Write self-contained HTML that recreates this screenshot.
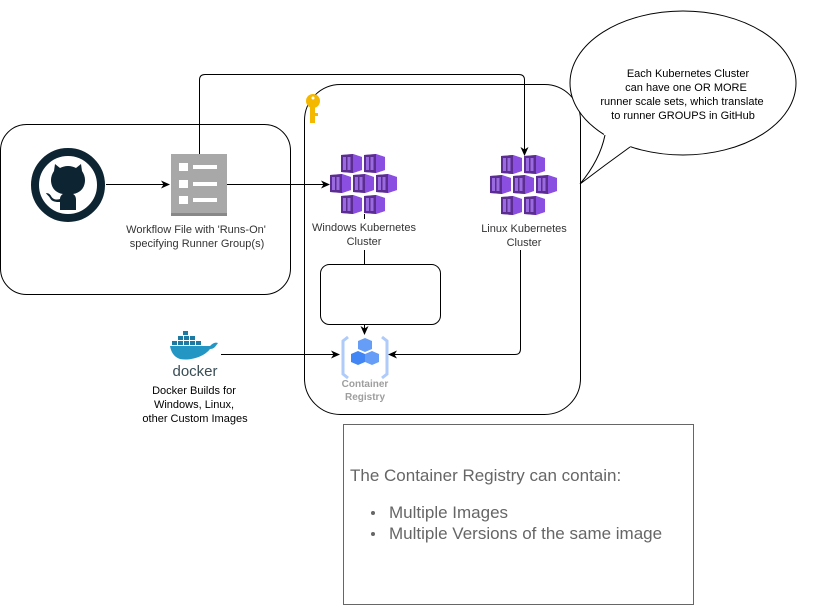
<!DOCTYPE html>
<html><head><meta charset="utf-8"><style>
html,body{margin:0;padding:0;background:#fff;}
svg{display:block;}
text{font-family:"Liberation Sans",Arial,sans-serif;}
</style></head><body>
<svg width="817" height="605" viewBox="0 0 817 605" xmlns="http://www.w3.org/2000/svg">
<defs>
<marker id="ar" markerWidth="10" markerHeight="10" refX="8" refY="5" orient="auto" markerUnits="userSpaceOnUse">
<path d="M0,1 L9,5 L0,9 L2.5,5 Z" fill="#000"/>
</marker>
<g id="ct">
<path d="M0,1 L12,0 L21,3 L21,16 L12,19 L0,18 Z" fill="#a06ee8"/>
<path d="M0,1 L12,0 L12,19 L0,18 Z" fill="#5c2d91"/>
<rect x="2" y="3" width="3" height="13" fill="#9a6ae0"/>
<rect x="6.5" y="3" width="3" height="13" fill="#9a6ae0"/>
<path d="M12,0 L21,3 L21,16 L12,19 Z" fill="#8a4ee0"/>
</g>
<g id="cl">
<use href="#ct" x="11" y="0"/><use href="#ct" x="34" y="0"/>
<use href="#ct" x="0" y="20"/><use href="#ct" x="23" y="20"/><use href="#ct" x="46" y="20"/>
<use href="#ct" x="11" y="41"/><use href="#ct" x="34" y="41"/>
</g>
</defs>

<!-- containers -->
<rect x="0.5" y="124.5" width="290" height="170" rx="26" fill="none" stroke="#000"/>
<rect x="304.5" y="84.5" width="276" height="330" rx="36" fill="none" stroke="#000"/>
<rect x="320.5" y="264.5" width="120" height="60" rx="9" fill="none" stroke="#000"/>
<rect x="343.5" y="424.5" width="350" height="180" fill="#fff" stroke="#666"/>

<!-- callout -->
<ellipse cx="683" cy="83" rx="113" ry="72" fill="#fff" stroke="#000"/>
<path d="M604,134 Q600,160 580,184 Q605,165 631,146 L640,130 L612,125 Z" fill="#fff"/>
<path d="M605,135 Q600,160 580,184 Q605,165 630,147" fill="none" stroke="#000"/>
<g font-size="11" text-anchor="middle" fill="#000">
<text x="688" y="77">Each Kubernetes Cluster</text>
<text x="686" y="91">can have one OR MORE</text>
<text x="682" y="105">runner scale sets, which translate</text>
<text x="683" y="119">to runner GROUPS in GitHub</text>
</g>

<!-- github -->
<circle cx="68" cy="185" r="33" fill="none" stroke="#0d2433" stroke-width="8"/>
<path d="M68,166 c-3,0 -6,1 -8,2 l-5,-4 l-1,7 c-2,3 -3,6 -3,9 c0,8 5,13 12,14 c-2,1 -3,3 -3,5 c-3,1 -7,1 -9,-3 c-1,-2 -3,-3 -5,-3 c1,2 3,3 4,5 c2,4 6,4 10,4 l0,8 l16,0 l0,-10 c0,-3 -1,-5 -3,-6 c7,-1 12,-6 12,-14 c0,-3 -1,-6 -3,-9 l-1,-7 l-5,4 c-2,-1 -5,-2 -8,-2 z" fill="#0d2433"/>

<!-- workflow icon -->
<rect x="171" y="154" width="56" height="62" fill="#a8a8a8"/>
<rect x="171" y="213" width="56" height="3" fill="#888"/>
<rect x="179" y="163" width="9" height="8" fill="#fff"/><rect x="193" y="165" width="24" height="4" fill="#fff"/>
<rect x="179" y="180" width="9" height="8" fill="#fff"/><rect x="193" y="182" width="24" height="4" fill="#fff"/>
<rect x="179" y="196" width="9" height="8" fill="#fff"/><rect x="193" y="198" width="24" height="4" fill="#fff"/>
<g font-size="11" fill="#333" text-anchor="middle">
<text x="196" y="233">Workflow File with 'Runs-On'</text>
<text x="197" y="247">specifying Runner Group(s)</text>
</g>

<!-- key -->
<g fill="#f5b800">
<circle cx="313" cy="101" r="7"/>
<rect x="310" y="104" width="5" height="19"/>
<rect x="315" y="113" width="3" height="3"/>
</g>
<circle cx="313" cy="98" r="1.5" fill="#fff"/>

<!-- clusters -->
<use href="#cl" x="330" y="154"/>
<use href="#cl" x="490" y="155"/>
<g font-size="11" fill="#333" text-anchor="middle">
<text x="364" y="231">Windows Kubernetes</text>
<text x="364" y="245">Cluster</text>
<text x="524" y="232">Linux Kubernetes</text>
<text x="524" y="246">Cluster</text>
</g>

<!-- registry icon -->
<g>
<path d="M348,337 l-5,4 v33 l5,4" fill="none" stroke="#aecbfa" stroke-width="3"/>
<path d="M382,337 l5,4 v33 l-5,4" fill="none" stroke="#aecbfa" stroke-width="3"/>
<path d="M358,341 l7,-3 l7,3 v8 l-7,3 l-7,-3z" fill="#669df6"/>
<path d="M351,354 l7,-3 l7,3 v8 l-7,3 l-7,-3z" fill="#4285f4"/>
<path d="M365,354 l7,-3 l7,3 v8 l-7,3 l-7,-3z" fill="#669df6"/>
</g>
<g font-size="10" font-weight="bold" fill="#9e9e9e" text-anchor="middle">
<text x="365" y="387">Container</text>
<text x="365" y="400">Registry</text>
</g>

<!-- docker -->
<g fill="#1d7aa3">
<rect x="183" y="331" width="5" height="4"/>
<rect x="178" y="336" width="5" height="4"/><rect x="184" y="336" width="5" height="4"/><rect x="190" y="336" width="5" height="4"/>
<rect x="172" y="341" width="5" height="4"/><rect x="178" y="341" width="5" height="4"/><rect x="184" y="341" width="5" height="4"/><rect x="190" y="341" width="5" height="4"/><rect x="196" y="341" width="5" height="4"/>
</g>
<path d="M170,346 h40 c3,-3 5,-4 8,-3 c-3,4 -4,6 -8,6 c-6,8 -20,12 -30,10 c-6,-2 -9,-7 -10,-13z" fill="#2496c4"/>
<text x="195" y="376" font-size="15" fill="#394d54" text-anchor="middle">docker</text>
<g font-size="11" fill="#000" text-anchor="middle">
<text x="194" y="394">Docker Builds for</text>
<text x="194" y="408">Windows, Linux,</text>
<text x="195" y="422">other Custom Images</text>
</g>

<!-- edges -->
<g fill="none" stroke="#000" stroke-width="1">
<path d="M106,184.5 H169" marker-end="url(#ar)"/>
<path d="M227,184.5 H329" marker-end="url(#ar)"/>
<path d="M199.5,154 V80 Q199.5,74.5 205,74.5 H519 Q524.5,74.5 524.5,80 V155" marker-end="url(#ar)"/>
<path d="M364.5,214 V219"/>
<path d="M364.5,250 V264"/>
<path d="M364.5,325 V334" marker-end="url(#ar)"/>
<path d="M520.5,250 V349 Q520.5,354.5 515,354.5 H389" marker-end="url(#ar)"/>
<path d="M221,354.5 H339" marker-end="url(#ar)"/>
</g>

<!-- text box -->
<text x="350" y="481" font-size="17" fill="#666">The Container Registry can contain:</text>
<circle cx="373" cy="513" r="2" fill="#666"/>
<circle cx="373" cy="534" r="2" fill="#666"/>
<text x="389" y="518" font-size="17" fill="#666">Multiple Images</text>
<text x="389" y="539" font-size="17" fill="#666">Multiple Versions of the same image</text>
</svg>
</body></html>
